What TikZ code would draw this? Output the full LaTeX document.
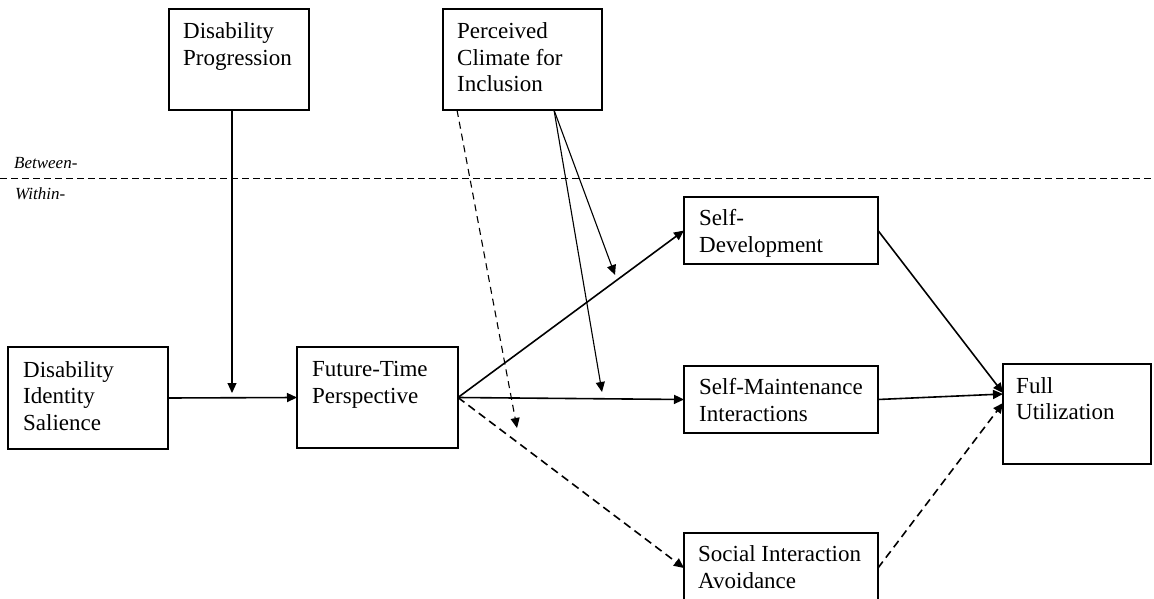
\documentclass[tikz,border=0pt]{standalone}
\usepackage{fontspec}
\setmainfont{Liberation Serif}
\usetikzlibrary{arrows.meta}
\begin{document}
\begin{tikzpicture}[x=1pt,y=-1pt,
  box/.style={draw=black, line width=1.2pt, anchor=north west, inner sep=0pt, outer sep=0pt},
  txt/.style={anchor=base west, inner sep=0pt, font=\fontsize{23}{26.5}\selectfont},
  lvl/.style={anchor=base west, inner sep=0pt, font=\fontsize{17}{19}\selectfont\itshape},
  arr/.style={line width=1.6pt, -{Triangle[length=10pt,width=9pt]}},
  darr/.style={arr, dash pattern=on 8pt off 5pt},
  thin/.style={line width=1.1pt, -{Triangle[length=10pt,width=9pt]}},
  dthin/.style={thin, dash pattern=on 7pt off 5pt}]
\useasboundingbox (0,0) rectangle (1154,599);
\clip (0,0) rectangle (1154,599);
\fill[white] (0,0) rectangle (1154,599);
% boxes
\node[box, minimum width=140pt, minimum height=101pt] (dp) at (169,9) {};
\node[box, minimum width=159pt, minimum height=101pt] (pci) at (443,9) {};
\node[box, minimum width=160pt, minimum height=102pt] (dis) at (8,347) {};
\node[box, minimum width=161pt, minimum height=101pt] (ftp) at (297,347) {};
\node[box, minimum width=194pt, minimum height=67pt] (sd) at (684,197) {};
\node[box, minimum width=194pt, minimum height=67pt] (smi) at (684,366) {};
\node[box, minimum width=194pt, minimum height=70pt] (sia) at (684,533) {};
\node[box, minimum width=148pt, minimum height=100pt] (fu) at (1003,364) {};
% texts
\node[txt] (dpt) at ([xshift=14pt,yshift=-30pt]dp.north west) {\parbox[t]{130pt}{Disability\\Progression}};
\node[txt] (pcit) at ([xshift=14pt,yshift=-30pt]pci.north west) {\parbox[t]{140pt}{Perceived\\Climate for\\Inclusion}};
\node[txt] (dist) at ([xshift=15pt,yshift=-30pt]dis.north west) {\parbox[t]{150pt}{Disability\\Identity\\Salience}};
\node[txt] (ftpt) at ([xshift=15pt,yshift=-29.5pt]ftp.north west) {\parbox[t]{150pt}{Future-Time\\Perspective}};
\node[txt] (sdt) at ([xshift=15pt,yshift=-28.5pt]sd.north west) {\parbox[t]{180pt}{Self-\\Development}};
\node[txt] (smit) at ([xshift=15pt,yshift=-28.5pt]smi.north west) {\parbox[t]{180pt}{Self-Maintenance\\Interactions}};
\node[txt] (siat) at ([xshift=14pt,yshift=-28.5pt]sia.north west) {\parbox[t]{180pt}{Social Interaction\\Avoidance}};
\node[txt] (fut) at ([xshift=13pt,yshift=-29pt]fu.north west) {\parbox[t]{130pt}{Full\\Utilization}};
% level labels and separator
\node[lvl] (btw) at (14,168) {Between-};
\node[lvl] (wth) at (15,200) {Within-};
\coordinate (sepl) at (0,178);
\coordinate (sepr) at (1154,178);
\draw[line width=1pt, dash pattern=on 7pt off 4pt] (sepl) -- (sepr);
% moderation target points
\coordinate (m1) at (232,393);
\coordinate (m2) at (615,275);
\coordinate (m3) at (602,392);
\coordinate (m4) at (517,428);
% main paths
\draw[arr] (dis.east) -- (ftp.west);
\draw[arr] (ftp.east) -- (sd.west);
\draw[arr] (ftp.east) -- (smi.west);
\draw[darr] (ftp.east) -- (sia.west);
\draw[arr] (sd.east) -- ([yshift=21pt]fu.west);
\draw[arr] (smi.east) -- ([yshift=20pt]fu.west);
\draw[darr] (sia.east) -- ([yshift=11pt]fu.west);
% moderators
\draw[thin] ([xshift=-7pt]dp.south) -- (m1);
\draw[thin] ([xshift=31.5pt]pci.south) -- (m2);
\draw[thin] ([xshift=31.5pt]pci.south) -- (m3);
\draw[dthin] ([xshift=-65.5pt]pci.south) -- (m4);
\end{tikzpicture}
\end{document}
